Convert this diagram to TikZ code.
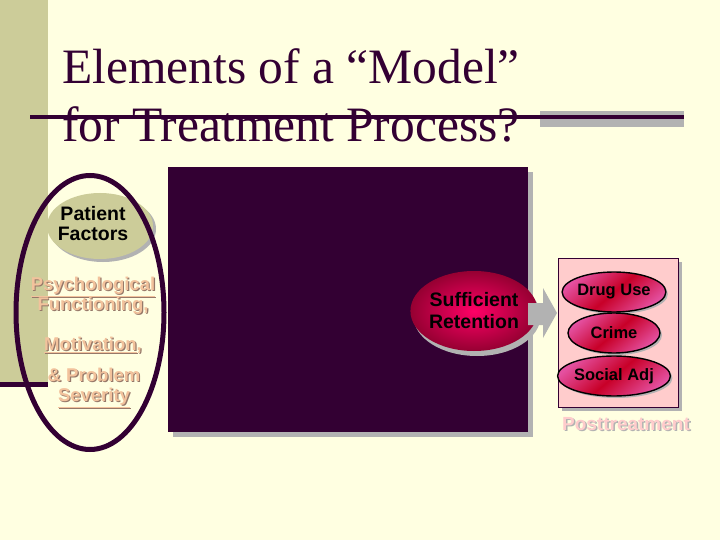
\documentclass[tikz,border=0pt]{standalone}
\usepackage{fontspec}
\setmainfont{Liberation Serif}
\newfontfamily\arialf{Liberation Sans}
\usetikzlibrary{shapes.geometric,shadows}
\definecolor{bgcream}{RGB}{255,255,225}
\definecolor{olive}{RGB}{204,204,153}
\definecolor{darkp}{RGB}{51,0,51}
\definecolor{shadowgray}{RGB}{178,178,178}
\definecolor{peach}{RGB}{242,194,156}
\definecolor{peachsh}{RGB}{150,120,105}
\definecolor{lightpink}{RGB}{255,204,204}
\definecolor{hotpink}{RGB}{255,0,102}
\definecolor{deepred}{RGB}{150,0,50}
\definecolor{mpink}{RGB}{228,80,160}
\definecolor{mred}{RGB}{200,0,40}
\tikzset{
  titletext/.style={anchor=base west, inner sep=0, text=darkp, font=\fontsize{49.5}{58}\selectfont},
  bold sans/.style 2 args={font=\arialf\bfseries\fontsize{#1}{#2}\selectfont},
  pinklabel/.style={text=peach, bold sans={18.5}{20}, inner sep=0, align=center},
  pinkshadow/.style={text=peachsh, bold sans={18.5}{20}, inner sep=0, align=center},
  outcome/.style={ellipse, draw=black, line width=1.4pt, minimum width=92pt, minimum height=40pt, inner sep=0,
     left color=mpink, right color=mpink, middle color=mred, shading angle=40,
     bold sans={16.5}{18}, text=black,
     drop shadow={shadow xshift=2pt, shadow yshift=-2pt, fill=shadowgray, opacity=1}},
}
\begin{document}
\begin{tikzpicture}[x=1pt,y=-1pt]
\useasboundingbox (0,0) rectangle (720,540);
\fill[bgcream] (0,0) rectangle (720,540);
% template bar
\fill[olive] (0,0) rectangle (48,382);
\draw[darkp, line width=5pt] (0,384.5) -- (48,384.5);
% title
\node[titletext] (t1) at (62,84) {Elements of a “Model”};
\node[titletext] (t2) at (62,142) {for Treatment Process?};
\fill[shadowgray] (540,111) rectangle (684,127);
\draw[darkp, line width=4pt] (30,117) -- (684,117);
% dark panel
\fill[shadowgray] (173,172) rectangle (533,437);
\fill[darkp] (168,167) rectangle (528,432);
% patient factors
\node[ellipse, fill=olive, minimum width=106pt, minimum height=66pt, inner sep=0,
  drop shadow={shadow xshift=3pt, shadow yshift=-3pt, fill=shadowgray, opacity=1}] (pf) at (100,226) {};
\node[bold sans={19.5}{20}, align=center, inner sep=0] (pft) at (93,224) {Patient\\Factors};
% big outline ellipse
\draw[darkp, line width=5pt] (90,312.5) ellipse [x radius=74, y radius=137];
% pink labels with shadows
\node[pinkshadow] (s1) at (94.2,297.2) {\underline{Psychological}\\Functioning,};
\node[pinklabel] (l1) at (93,296) {\underline{Psychological}\\Functioning,};
\node[pinkshadow] (s2) at (94.2,346.2) {\underline{Motivation},};
\node[pinklabel] (l2) at (93,345) {\underline{Motivation},};
\node[pinkshadow] (s3) at (95.2,389.2) {\& Problem\\\underline{Severity}};
\node[pinklabel] (l3) at (94,388) {\& Problem\\\underline{Severity}};
% sufficient retention
\node[ellipse, minimum width=104pt, minimum height=80pt, inner sep=0,
  inner color=hotpink, outer color=deepred,
  drop shadow={shadow xshift=3pt, shadow yshift=-5pt, fill=shadowgray, opacity=1},
  bold sans={19.5}{22}, align=center] (sr) at (474,311) {Sufficient\\Retention};
% arrow
\fill[shadowgray] (528,303) -- (543,303) -- (543,288) -- (557,313) -- (543,338) -- (543,325) -- (528,325) -- cycle;
% posttreatment box
\fill[shadowgray] (562,262) rectangle (682,411);
\draw[fill=lightpink, draw=darkp, line width=0.8pt] (558,258) rectangle (678,407);
\node[outcome] (du) at (614,292) {Drug Use};
\node[outcome] (cr) at (614,333) {Crime};
\node[outcome] (sa) at (614,376) {Social Adj};
\node[text=shadowgray, bold sans={19}{20}, inner sep=0] (pts) at (627.5,425.5) {Posttreatment};
\node[text=lightpink, bold sans={19}{20}, inner sep=0] (pt) at (626,424) {Posttreatment};
\end{tikzpicture}
\end{document}
